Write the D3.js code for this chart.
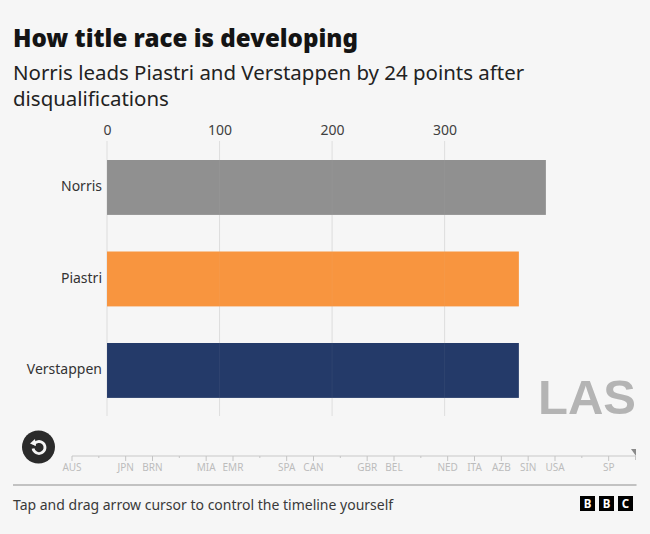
<!DOCTYPE html>
<html><head><meta charset="utf-8">
<script src="https://cdn.jsdelivr.net/npm/d3@7"></script>
<style>html,body{margin:0;padding:0;background:#f6f6f6}svg{display:block}</style>
</head><body><svg id="c" width="650" height="534"></svg>
<script>
const drivers = ["Norris","Piastri","Verstappen"];
const points = [390,366,366];
const barColors = ["#909090","#f8953f","#243a69"];
const axisTicks = [0,100,200,300];
const rounds = ["AUS","CHN","JPN","BRN","SAU","MIA","EMR","MON","SPA","CAN","AUT","GBR","BEL","HUN","NED","ITA","AZB","SIN","USA","MEX","SP","LAS"];
const hiddenRounds = ["CHN","SAU","MON","AUT","HUN","MEX","LAS"];
const currentRound = "LAS";
const title = "How title race is developing";
const subtitle = ["Norris leads Piastri and Verstappen by 24 points after","disqualifications"];
const footer = "Tap and drag arrow cursor to control the timeline yourself";
const font = "'Noto Sans',sans-serif";

const svg = d3.select("#c");
svg.append("rect").attr("width",650).attr("height",534).attr("fill","#f6f6f6");
svg.append("text").attr("x",13).attr("y",47).attr("font-family",font).attr("font-weight",900).attr("font-size",25.5)
  .attr("textLength",345).attr("lengthAdjust","spacingAndGlyphs").attr("fill","#141414").text(title);
svg.selectAll(".sub").data(subtitle).enter().append("text").attr("class","sub").attr("x",13).attr("y",(d,i)=>80+i*26)
  .attr("font-family",font).attr("font-size",20.45).attr("fill","#222").text(d=>d);

const x = d3.scaleLinear().domain([0,300]).range([107,444.6]);
const y = d3.scaleBand().domain(drivers).range([141.7,416.2]).paddingInner(0.4).paddingOuter(0.2);

svg.append("g").selectAll("line").data(axisTicks).enter().append("line")
  .attr("x1",d=>x(d)).attr("x2",d=>x(d)).attr("y1",141).attr("y2",416).attr("stroke","#dedede").attr("stroke-width",1);
const gx = svg.append("g").attr("transform","translate(0,135)").call(d3.axisTop(x).tickValues(axisTicks).tickSize(0).tickFormat(d3.format("d")));
gx.select(".domain").remove();
gx.selectAll("text").attr("font-family",font).attr("font-size",14).attr("fill","#404040").attr("dy",0).attr("y",0);

svg.append("g").selectAll("rect").data(drivers).enter().append("rect")
  .attr("x",x(0)).attr("y",d=>y(d)).attr("width",(d,i)=>x(points[i])-x(0)).attr("height",y.bandwidth())
  .attr("fill",(d,i)=>barColors[i]);
svg.append("g").selectAll("line").data(axisTicks).enter().append("line")
  .attr("x1",d=>x(d)).attr("x2",d=>x(d)).attr("y1",160).attr("y2",398).attr("stroke","#dedede").attr("stroke-opacity",0.06).attr("stroke-width",1);
svg.append("g").selectAll("text").data(drivers).enter().append("text")
  .attr("x",102).attr("y",d=>y(d)+y.bandwidth()/2+4).attr("text-anchor","end")
  .attr("font-family",font).attr("font-size",14).attr("fill","#333").text(d=>d);

svg.append("text").attr("x",636).attr("y",413.5).attr("text-anchor","end").attr("font-family","'Liberation Sans',sans-serif").attr("font-weight",700).attr("font-size",49).attr("fill","#b4b4b4").text(currentRound);

// replay button
svg.append("circle").attr("cx",38.5).attr("cy",447).attr("r",16.5).attr("fill","#2b2b2b");
const arc = d3.arc().innerRadius(4.6).outerRadius(7.4).startAngle(-Math.PI*0.35).endAngle(Math.PI*1.45);
svg.append("path").attr("d",arc()).attr("transform","translate(39,447.5)").attr("fill","#f6f6f6");
svg.append("path").attr("d",d3.line()([[30,443.5],[35,439],[36,446]])).attr("fill","#f6f6f6");

// timeline
const t = d3.scalePoint().domain(rounds).range([72,635.5]);
svg.append("line").attr("x1",t("AUS")).attr("x2",t("LAS")).attr("y1",456).attr("y2",456).attr("stroke","#c8c8c8").attr("stroke-width",1.2);
svg.append("g").selectAll("line").data(rounds).enter().append("line")
  .attr("x1",d=>t(d)).attr("x2",d=>t(d)).attr("y1",456).attr("y2",d=>d===currentRound?460:hiddenRounds.includes(d)?458:461).attr("stroke","#c4c4c4");
svg.append("g").selectAll("text").data(rounds.filter(d=>!hiddenRounds.includes(d))).enter().append("text")
  .attr("x",d=>t(d)).attr("y",471).attr("text-anchor","middle").attr("font-family",font).attr("font-size",10).attr("fill","#bcbcbc").text(d=>d);
svg.append("path").attr("d",d3.line()([[t("LAS")-4.5,449],[t("LAS")+0.5,449],[t("LAS")+0.5,456]])).attr("fill","#8a8a8a");

svg.append("line").attr("x1",13).attr("x2",636.5).attr("y1",485).attr("y2",485).attr("stroke","#b0b0b0").attr("stroke-width",1.4);
svg.append("text").attr("x",13).attr("y",510).attr("font-family",font).attr("font-size",14).attr("fill","#3a3a3a").text(footer);

// BBC logo
const logo = ["B","B","C"];
const lx = d3.scalePoint().domain([0,1,2]).range([580,618]);
const g = svg.append("g").selectAll("g").data(logo).enter().append("g").attr("transform",(d,i)=>`translate(${lx(i)},496)`);
g.append("rect").attr("width",15).attr("height",15).attr("fill","#000");
g.append("text").attr("x",7.5).attr("y",12).attr("text-anchor","middle").attr("font-family",font).attr("font-weight",700).attr("font-size",11.5).attr("fill","#fff").text(d=>d);
</script></body></html>
